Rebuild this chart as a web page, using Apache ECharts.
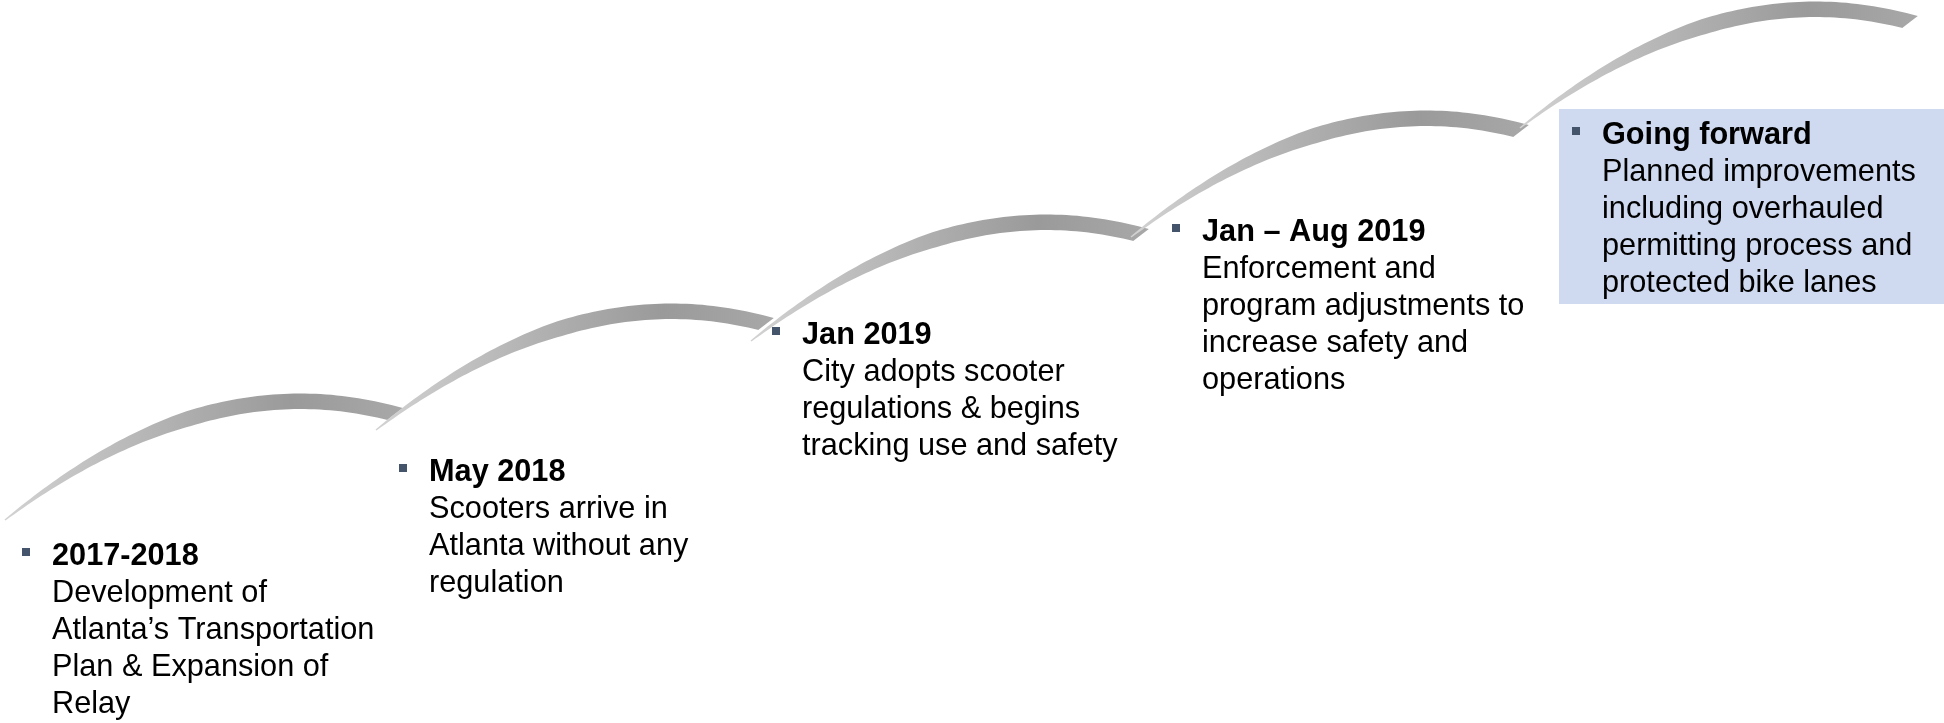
<!DOCTYPE html>
<html>
<head>
<meta charset="utf-8">
<script src="https://cdn.jsdelivr.net/npm/echarts@6/dist/echarts.min.js"></script>
<style>
  html, body { margin: 0; padding: 0; background: #fff; }
  #main { width: 1944px; height: 723px; }
</style>
</head>
<body>
<div id="main"></div>
<script>
// timeline stages
var stageTitles = ['2017-2018', 'May 2018', 'Jan 2019', 'Jan \u2013 Aug 2019', 'Going forward'];
var stageNotes = [
  ['Development of', 'Atlanta\u2019s Transportation', 'Plan & Expansion of', 'Relay'],
  ['Scooters arrive in', 'Atlanta without any', 'regulation'],
  ['City adopts scooter', 'regulations & begins', 'tracking use and safety'],
  ['Enforcement and', 'program adjustments to', 'increase safety and', 'operations'],
  ['Planned improvements', 'including overhauled', 'permitting process and', 'protected bike lanes']
];
// where each stage sits on the slide (x to the right, y downwards)
var stageX = [26, 403, 776, 1176, 1576];
var stageY = [552, 468, 331, 228, 131];
// where each rising arc starts
var arcStartX = [5, 376, 751, 1131, 1520];
var arcStartY = [520, 430, 341, 237, 128];
// highlighted last stage: [x0, y0, x1, y1]
var focusBox = [1559, 109, 1944, 304];

// one arc, relative to its start: start, control 1, control 2, end
var arcShape = [[0, 0], [115, -90], [245, -145], [390, -106]];

var FONT = 'Arial, "Liberation Sans", Helvetica, sans-serif';

function bez(p, t) {
  var u = 1 - t;
  var a = u * u * u, b = 3 * u * u * t, c = 3 * u * t * t, d = t * t * t;
  return [a * p[0][0] + b * p[1][0] + c * p[2][0] + d * p[3][0],
          a * p[0][1] + b * p[1][1] + c * p[2][1] + d * p[3][1]];
}
function bezD(p, t) {
  var u = 1 - t;
  return [3 * u * u * (p[1][0] - p[0][0]) + 6 * u * t * (p[2][0] - p[1][0]) + 3 * t * t * (p[3][0] - p[2][0]),
          3 * u * u * (p[1][1] - p[0][1]) + 6 * u * t * (p[2][1] - p[1][1]) + 3 * t * t * (p[3][1] - p[2][1])];
}

function renderArc(params, api) {
  var sx = api.value(0), sy = api.value(1);
  var p = arcShape.map(function (d) { return api.coord([sx + d[0], sy + d[1]]); });
  var N = 80, top = [], bot = [];
  for (var i = 0; i <= N; i++) {
    var t = i / N;
    var pt = bez(p, t), d = bezD(p, t);
    var len = Math.sqrt(d[0] * d[0] + d[1] * d[1]) || 1;
    var tx = d[0] / len, ty = d[1] / len;
    var nx = ty, ny = -tx;
    var w = (1.5 + 14 * Math.min(1, t / 0.5)) / 2;
    var s = i === N ? 6 : 0; // slanted cut at the end
    top.push([pt[0] + nx * w + tx * s, pt[1] + ny * w + ty * s]);
    bot.push([pt[0] - nx * w - tx * s, pt[1] - ny * w - ty * s]);
  }
  return {
    type: 'polygon',
    shape: { points: top.concat(bot.reverse()) },
    style: {
      fill: new echarts.graphic.LinearGradient(0, 0, 1, 0, [
        { offset: 0, color: '#d2d2d2' },
        { offset: 0.4, color: '#b2b2b2' },
        { offset: 0.72, color: '#9a9a9a' },
        { offset: 1, color: '#a8a8a8' }
      ])
    }
  };
}

function renderStage(params, api) {
  var c = api.coord([api.value(0), api.value(1)]);
  var i = params.dataIndex;
  var txt = '{b|' + stageTitles[i] + '}\n' + stageNotes[i].map(function (l) { return '{n|' + l + '}'; }).join('\n');
  return {
    type: 'group',
    children: [
      { type: 'rect', shape: { x: c[0] - 4, y: c[1] - 4, width: 8, height: 8 }, style: { fill: '#44546a' } },
      {
        type: 'text',
        x: c[0] + 26,
        y: c[1] - 14,
        style: {
          text: txt,
          fill: '#000',
          fontSize: 30.7,
          lineHeight: 37,
          fontFamily: FONT,
          verticalAlign: 'top',
          rich: {
            b: { fontSize: 30.7, lineHeight: 37, fontWeight: 'bold', fontFamily: FONT, fill: '#000' },
            n: { fontSize: 30.7, lineHeight: 37, fontFamily: FONT, fill: '#000' }
          }
        }
      }
    ]
  };
}

function renderBox(params, api) {
  var a = api.coord([api.value(0), api.value(1)]);
  var b = api.coord([api.value(2), api.value(3)]);
  return {
    type: 'rect',
    shape: { x: a[0], y: a[1], width: b[0] - a[0], height: b[1] - a[1] },
    style: { fill: '#cfdaf0' }
  };
}

var chart = echarts.init(document.getElementById('main'), null, { renderer: 'canvas' });
chart.setOption({
  animation: false,
  backgroundColor: '#fff',
  grid: { left: 0, right: 0, top: 0, bottom: 0 },
  xAxis: { type: 'value', min: 0, max: 1944, show: false },
  yAxis: { type: 'value', min: 0, max: 723, inverse: true, show: false },
  series: [
    {
      type: 'custom',
      name: 'focus',
      renderItem: renderBox,
      data: [focusBox],
      silent: true,
      z: 1
    },
    {
      type: 'custom',
      name: 'arcs',
      renderItem: renderArc,
      data: arcStartX.map(function (x, i) { return [x, arcStartY[i]]; }),
      silent: true,
      z: 2
    },
    {
      type: 'custom',
      name: 'stages',
      renderItem: renderStage,
      data: stageX.map(function (x, i) { return [x, stageY[i]]; }),
      silent: true,
      z: 3
    }
  ]
});
</script>
</body>
</html>
